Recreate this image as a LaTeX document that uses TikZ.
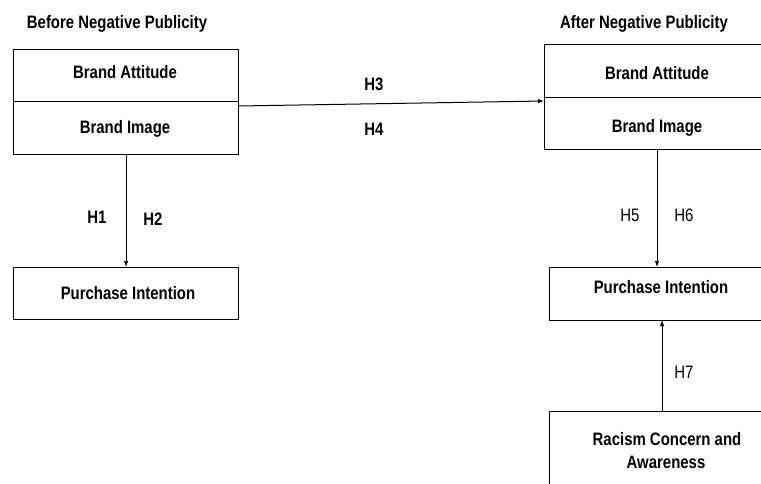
\documentclass[tikz,border=0pt]{standalone}
\usepackage{fontspec}
\setmainfont{Liberation Sans}[FakeStretch=0.83]
\usetikzlibrary{arrows.meta,calc}
\begin{document}
\begin{tikzpicture}[x=1pt,y=-1pt,
  boxst/.style={draw,line width=1.1pt,rectangle,inner sep=0pt,anchor=north west},
  txt/.style={inner sep=0pt,anchor=base,font=\fontsize{18}{20}\selectfont\bfseries},
  txtr/.style={inner sep=0pt,anchor=base,font=\fontsize{18}{20}\selectfont},
  arr/.style={line width=1pt,-{Latex[length=6pt,width=4.5pt]}}]
\useasboundingbox (0,0) rectangle (761,483);
\clip (0,0) rectangle (761,483);
% titles
\node[txt] (t1) at (117,28) {Before Negative Publicity};
\node[txt] (t2) at (644,28) {After Negative Publicity};
% left boxes
\node[boxst,minimum width=225pt,minimum height=52pt] (la) at (13,49) {};
\node[boxst,minimum width=225pt,minimum height=53pt] (lb) at (13,101) {};
\node[txt] (lat) at (125,78) {Brand Attitude};
\node[txt] (lbt) at (125,133) {Brand Image};
\node[boxst,minimum width=225pt,minimum height=52pt] (lpi) at (13,267) {};
\node[txt] (lpit) at (128,299) {Purchase Intention};
% right boxes
\node[boxst,minimum width=250pt,minimum height=53pt] (ra) at (544,44) {};
\node[boxst,minimum width=250pt,minimum height=52pt] (rb) at (544,97) {};
\node[txt] (rat) at (657,79) {Brand Attitude};
\node[txt] (rbt) at (657,132) {Brand Image};
\node[boxst,minimum width=250pt,minimum height=53pt] (rpi) at (549,267) {};
\node[txt] (rpit) at (661,293) {Purchase Intention};
\node[boxst,minimum width=250pt,minimum height=100pt] (rc) at (549,411) {};
\node[txt] (rct1) at (667,445) {Racism Concern and};
\node[txt] (rct2) at (666,468) {Awareness};
% connectors
\coordinate (h3s) at (238,106);
\coordinate (h3e) at (544,101);
\draw[arr] (h3s) -- (h3e);
\draw[arr] (lb.south) -- (lpi.north);
\coordinate (r1s) at (657,149);
\coordinate (r1e) at (657,267);
\draw[arr] (r1s) -- (r1e);
\coordinate (r2s) at (662,411);
\coordinate (r2e) at (662,320);
\draw[arr] (r2s) -- (r2e);
% hypothesis labels
\node[txt] (h1) at (97,223) {H1};
\node[txt] (h2) at (153,225) {H2};
\node[txt] (h3) at (374,90) {H3};
\node[txt] (h4) at (374,135) {H4};
\node[txtr] (h5) at (630,221) {H5};
\node[txtr] (h6) at (684,221) {H6};
\node[txtr] (h7) at (684,378) {H7};
\end{tikzpicture}
\end{document}
